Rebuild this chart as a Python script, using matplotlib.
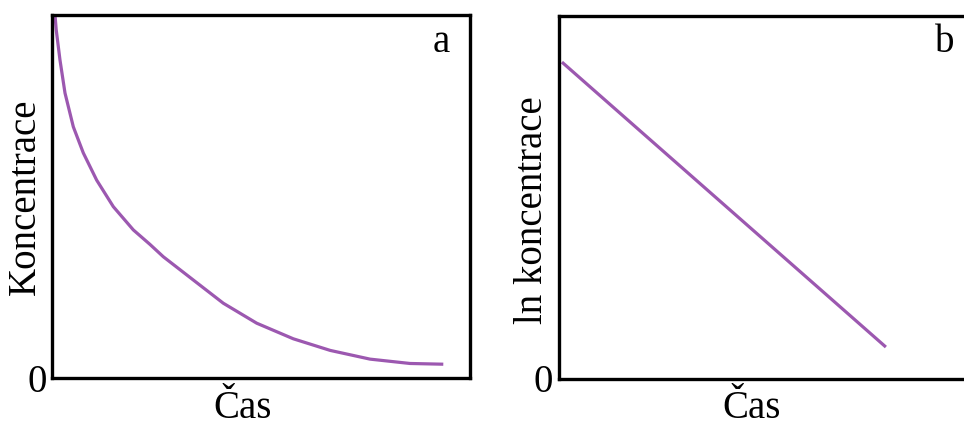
import matplotlib.pyplot as plt

# panel a: concentration vs time (0-100 scale)
time_a = [0.72, 1.0, 1.91, 3.11, 5.10, 7.49, 10.69, 14.67, 19.45, 23.44, 26.63,
          33.80, 40.98, 48.97, 57.73, 66.56, 76.08, 85.65, 93.61]
conc_a = [100, 96.0, 87.6, 78.5, 69.2, 62.0, 54.5, 47.2, 40.8, 36.8, 33.4,
          27.0, 20.6, 15.1, 10.8, 7.6, 5.2, 4.0, 3.8]

# panel b: ln concentration vs time
time_b = [0.7, 78.2]
lnconc_b = [87.3, 8.8]

line_color = '#9c58b0'
plt.rcParams['font.family'] = ['Liberation Serif', 'DejaVu Serif']

fig = plt.figure(figsize=(9.64, 4.26), dpi=100)
W, H = 964, 426

def add_panel(left_px, bottom_px):
    ax = fig.add_axes([left_px / W, (H - bottom_px) / H, 418 / W, 363 / H])
    ax.set_xlim(0, 100)
    ax.set_ylim(0, 100)
    ax.set_xticks([])
    ax.set_yticks([])
    for s in ax.spines.values():
        s.set_linewidth(2.4)
        s.set_color('black')
    return ax

ax1 = add_panel(52, 378)
ax1.plot(time_a, conc_a, color=line_color, linewidth=2.3, solid_capstyle='butt',
         solid_joinstyle='round')

ax2 = add_panel(559, 379)
ax2.plot(time_b, lnconc_b, color=line_color, linewidth=2.3, solid_capstyle='butt')

fs = 28
def ftext(x, y, s, **kw):
    fig.text(x / W, 1 - y / H, s, fontsize=fs, ha='center', va='center', **kw)

ftext(37, 382, '0')
ftext(543, 382, '0')
ftext(243, 409, 'Čas')
ftext(752, 409, 'Čas')
ftext(25, 197, 'Koncentrace', rotation=90)
ftext(532, 210, 'ln koncentrace', rotation=90)
ftext(441, 42, 'a')
ftext(945, 42, 'b')

plt.savefig('out.png', dpi=100)
